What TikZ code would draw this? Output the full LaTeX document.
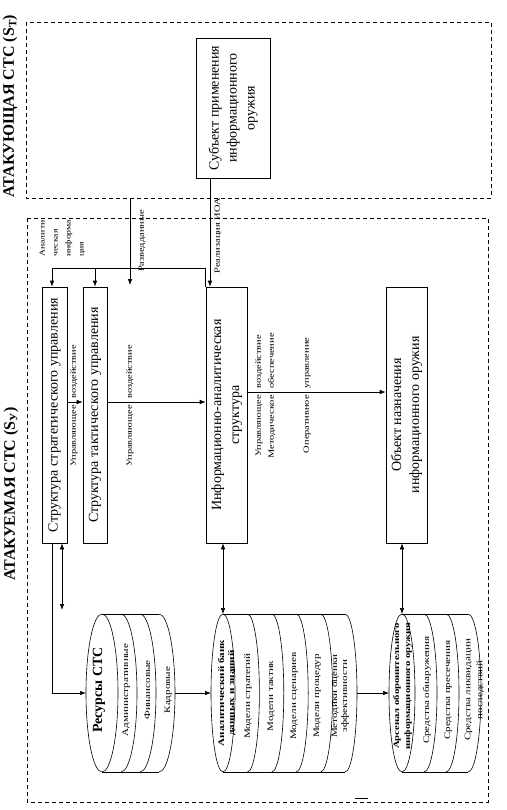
\documentclass[tikz,border=0pt]{standalone}
\usepackage{fontspec}
\setmainfont{Liberation Serif}
\usetikzlibrary{arrows.meta}

% narrow-looking labels: stretched along the text
\newcommand{\wide}[2][c]{\scalebox{1.3}[1]{\begin{tabular}{@{}#1@{}}#2\end{tabular}}}

\tikzset{
  box/.style={draw, inner sep=0pt, font=\fontsize{14}{18}\selectfont},
  lab/.style={rotate=90, inner sep=0pt, font=\fontsize{8}{9}\selectfont},
  stacktext/.style={rotate=90, inner sep=0pt, font=\fontsize{8.5}{10}\selectfont},
  stackhead/.style={rotate=90, inner sep=0pt, font=\bfseries\fontsize{8.5}{10}\selectfont},
  title/.style={rotate=90, inner sep=0pt, font=\bfseries\fontsize{16}{18}\selectfont},
  frame/.style={dash pattern=on 4pt off 3pt},
  arr/.style={-{Latex[length=6pt,width=4.5pt]}},
  arrs/.style={{Latex[length=6pt,width=4.5pt]}-{Latex[length=6pt,width=4.5pt]}}
}

\begin{document}
\begin{tikzpicture}[x=1pt, y=-1pt, line width=0.6pt]
    \useasboundingbox (0,0) rectangle (506,810);
    \def\cy{693} % axis of the stacks
    \def\ry{79}  % half height of the stacks

    % Attacking system
    \draw[frame] (26,22) rectangle (491,198);
    \node[title] at (10,106) {АТАКУЮЩАЯ СТС (S\textsubscript{Т})};
    \node[box, minimum width=74pt, minimum height=140pt] (subj) at (233,108)
        {\rotatebox{90}{\begin{tabular}{@{}c@{}}Субъект применения\\информационного\\оружия\end{tabular}}\hspace{18pt}};

    % Attacked system
    \draw[frame] (27,218) rectangle (488,802);
    \node[title] at (11,494) {АТАКУЕМАЯ СТС (S\textsubscript{У})};
    \draw (355,798) -- (368,798);

    \node[box, minimum width=25pt, minimum height=256pt] (strat) at (54.5,415)
        {\rotatebox{90}{Структура стратегического управления}};
    \node[box, minimum width=24pt, minimum height=256pt] (tact) at (95,415)
        {\rotatebox{90}{Структура тактического управления}};
    \node[box, minimum width=41pt, minimum height=256pt] (info) at (226.5,415)
        {\rotatebox{90}{\begin{tabular}{@{}c@{}}Информационно-аналитическая\\структура\end{tabular}}};
    \node[box, minimum width=41pt, minimum height=256pt] (obj) at (406.5,415)
        {\rotatebox{90}{\begin{tabular}{@{}c@{}}Объект назначения\\информационного оружия\end{tabular}}};

    % Links from the attacking system
    \coordinate (intel) at (130,198);
    \draw[arr] (intel) -- (130,285);
    \node[lab] at (142,241) {\wide{Разведданные}};
    \draw[arr] ([xshift=-23pt]subj.south) coordinate (ioa) -- (ioa |- info.north);
    \node[lab] at (218,236) {\wide{Реализация ИОА}};

    % Analytical information
    \coordinate (bus) at (52,268);
    \draw (info.north west) |- (bus);
    \draw[arr] (bus) -- (bus |- strat.north);
    \draw[arr] (bus -| tact.north) -- (tact.north);
    \node[lab, anchor=west, font=\fontsize{7.5}{13}\selectfont] at (61.5,257)
        {\wide[l]{Аналити\\ческая\\информа\\ция}};

    % Control chain
    \draw[arr] ([yshift=13pt]strat.east) -- ([yshift=13pt]tact.west);
    \node[lab, anchor=east] at (74,405) {\wide{Управляющее}};
    \node[lab, anchor=west] at (74,399) {\wide{воздействие}};
    \draw[arr] ([yshift=13pt]tact.east) -- ([yshift=13pt]info.west);
    \node[lab, anchor=east] at (130,405) {\wide{Управляющее}};
    \node[lab, anchor=west] at (130,399) {\wide{воздействие}};
    \draw[arr] ([yshift=23pt]info.east) -- ([yshift=23pt]obj.west);
    \node[lab, anchor=east] at (259,395) {\wide{Управляющее}};
    \node[lab, anchor=west] at (259,389) {\wide{воздействие}};
    \node[lab, anchor=east] at (272,395) {\wide{Методическое}};
    \node[lab, anchor=west] at (272,389) {\wide{обеспечение}};
    \node[lab, anchor=east] at (307,395) {\wide{Оперативное}};
    \node[lab, anchor=west] at (307,389) {\wide{управление}};

    % Resources stack
    \draw (102,\cy) ellipse (16pt and \ry pt);
    \draw (102,\cy-\ry) -- (159,\cy-\ry) (102,\cy+\ry) -- (159,\cy+\ry);
    \foreach \k in {1,2,3} {
        \draw ({102+19*\k},\cy-\ry) arc (90:-90:16pt and \ry pt);
    }
    \coordinate (res-w) at (86,\cy);
    \coordinate (res-e) at (175,\cy);
    \node[rotate=90, inner sep=0pt, font=\bfseries\fontsize{14}{16}\selectfont] at (99,690) {Ресурсы СТС};
    \node[stacktext] at (126,690) {\wide{Административные}};
    \node[stacktext] at (148,690) {\wide{Финансовые}};
    \node[stacktext] at (168,690) {\wide{Кадровые}};

    % Knowledge bank stack
    \draw (223,\cy) ellipse (12pt and \ry pt);
    \draw (223,\cy-\ry) -- (345,\cy-\ry) (223,\cy+\ry) -- (345,\cy+\ry);
    \foreach \k in {1,...,5} {
        \draw ({223+24.4*\k},\cy-\ry) arc (90:-90:12pt and \ry pt);
    }
    \coordinate (bank-w) at (211,\cy);
    \coordinate (bank-n) at (223,\cy-\ry);
    \coordinate (bank-e) at (357,\cy);
    \node[stackhead] at (227,693) {\wide{Аналитический банк\\данных и знаний}};
    \node[stacktext] at (248,696) {\wide{Модели стратегий}};
    \node[stacktext] at (271,696) {\wide{Модели тактик}};
    \node[stacktext] at (294,696) {\wide{Модели сценариев}};
    \node[stacktext] at (317,696) {\wide{Модели процедур}};
    \node[stacktext] at (340,696) {\wide{Методики оценки\\эффективности}};

    % Arsenal stack
    \draw (402,\cy) ellipse (13pt and \ry pt);
    \draw (402,\cy-\ry) -- (468,\cy-\ry) (402,\cy+\ry) -- (468,\cy+\ry);
    \foreach \k in {1,2,3} {
        \draw ({402+22*\k},\cy-\ry) arc (90:-90:13pt and \ry pt);
    }
    \coordinate (ars-w) at (389,\cy);
    \coordinate (ars-n) at (402,\cy-\ry);
    \node[stackhead, font=\bfseries\fontsize{8.2}{11}\selectfont] at (402.5,686) {\wide{Арсенал оборонительного\\информационного оружия}};
    \node[stacktext] at (427,690) {\wide{Средства обнаружения}};
    \node[stacktext] at (448,690) {\wide{Средства пресечения}};
    \node[stacktext, font=\fontsize{8.5}{12}\selectfont] at (474,690) {\wide{Средства ликвидации\\последствий}};

    % Links to the stacks
    \draw[arr] ([xshift=-2.5pt]strat.south) |- (res-w);
    \coordinate (res-tip) at (62,610);
    \draw[arrs] ([xshift=7.5pt]strat.south) -- (res-tip);
    \draw[arrs] (info.south -| bank-n) -- (bank-n);
    \draw[arrs] (obj.south -| ars-n) -- (ars-n);
    \draw[arr] (res-e) -- (bank-w);
    \draw[arr] (bank-e) -- (ars-w);
\end{tikzpicture}
\end{document}
